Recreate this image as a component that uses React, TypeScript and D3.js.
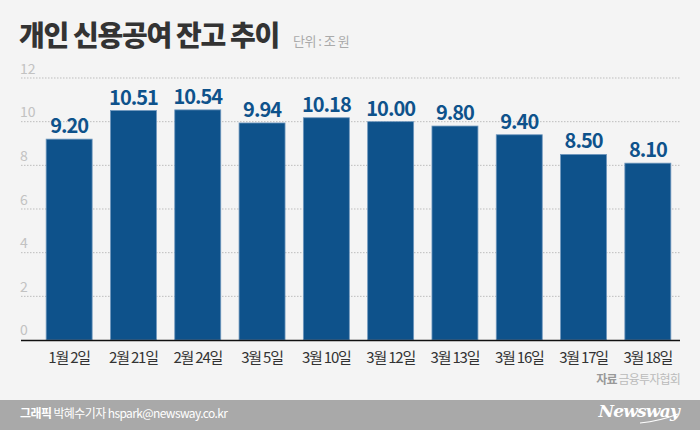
import React from "react";
import * as d3 from "d3";

const categories = ["1월 2일", "2월 21일", "2월 24일", "3월 5일", "3월 10일", "3월 12일", "3월 13일", "3월 16일", "3월 17일", "3월 18일"];
const values = [9.2, 10.51, 10.54, 9.94, 10.18, 10.0, 9.8, 9.4, 8.5, 8.1];
const yTicks = [0, 2, 4, 6, 8, 10, 12];

const W = 700;
const H = 430;
const FONT = "'Noto Sans CJK KR', 'Noto Sans', sans-serif";
const BAR = "#0e528b";

const App = () => {
  const x = d3.scaleBand<string>().domain(categories).range([37, 680]).paddingInner(0.285).paddingOuter(0.1425);
  const y = d3.scaleLinear().domain([0, 12]).range([340, 78]);

  return (
    <svg width={W} height={H} style={{ position: "absolute", left: 0, top: 0, display: "block" }} fontFamily={FONT}>
      <rect width={W} height={H} fill="#f4f4f4" />

      {/* title */}
      <text x={19} y={46} fontSize={28} fontWeight={900} fill="#333" letterSpacing={-1.3}>
        개인 신용공여 잔고 추이
      </text>
      <text x={293} y={46} fontSize={13} fill="#aaa" letterSpacing={-0.5}>
        단위 : 조 원
      </text>

      {/* grid */}
      {yTicks.map((t) => (
        <g key={t}>
          {t > 0 && (
            <line x1={21} x2={681} y1={y(t)} y2={y(t)} stroke="#bdbdbd" strokeWidth={1} strokeDasharray="1.5,1.5" />
          )}
          <text x={20} y={t === 0 ? 335 : y(t) - 4.5} fontSize={14} fill="#c2c2c2">
            {t}
          </text>
        </g>
      ))}

      {/* bars */}
      {categories.map((c, i) => (
        <g key={c}>
          <rect
            x={x(c)}
            y={y(values[i])}
            width={x.bandwidth()}
            height={y(0) - y(values[i])}
            fill={BAR}
            stroke="#6f97bd"
            strokeWidth={0.8}
          />
          <text
            x={(x(c) as number) + x.bandwidth() / 2}
            y={y(values[i]) - 6}
            textAnchor="middle"
            fontSize={20}
            fontWeight={700}
            fill={BAR}
            letterSpacing={-1}
          >
            {values[i].toFixed(2)}
          </text>
          <text
            x={(x(c) as number) + x.bandwidth() / 2}
            y={363}
            textAnchor="middle"
            fontSize={15}
            fill="#333"
            letterSpacing={-1.2}
          >
            {c}
          </text>
        </g>
      ))}

      <line x1={21} x2={680} y1={340.5} y2={340.5} stroke="#111" strokeWidth={1.5} />

      {/* source */}
      <text x={680} y={384} textAnchor="end" fontSize={12} letterSpacing={-0.8}>
        <tspan fill="#999" fontWeight={700}>자료</tspan>
        <tspan fill="#bbb"> 금융투자협회</tspan>
      </text>

      {/* footer */}
      <rect x={0} y={400} width={W} height={30} fill="#a9a9a9" />
      <text x={20} y={418} fontSize={12} fill="#fff" letterSpacing={-0.6}>
        <tspan fontWeight={700}>그래픽</tspan>
        <tspan> 박혜수기자 hspark@newsway.co.kr</tspan>
      </text>
      <text
        x={679}
        y={417}
        textAnchor="end"
        fontSize={17}
        fontWeight={700}
        fontStyle="italic"
        fill="#fff"
        fontFamily="'DejaVu Serif', serif"
        letterSpacing={-0.8}
      >
        Newsway
      </text>
      <path d="M640,423 Q660,421 678,414" stroke="#fff" strokeWidth={1.2} fill="none" />
    </svg>
  );
};

export default App;
